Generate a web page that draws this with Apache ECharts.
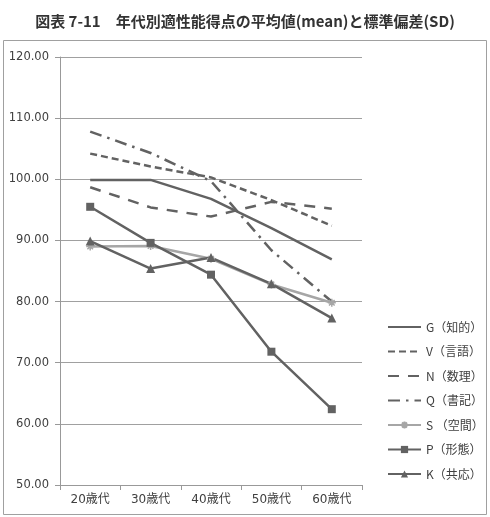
<!DOCTYPE html>
<html>
<head>
<meta charset="utf-8">
<script src="https://cdn.jsdelivr.net/npm/echarts@6/dist/echarts.min.js"></script>
<style>
  html, body { margin: 0; padding: 0; background: #fff; }
  #chart { width: 490px; height: 517px; }
</style>
</head>
<body>
<div id="chart"></div>
<script>
// 年代
const categories = ['20歳代', '30歳代', '40歳代', '50歳代', '60歳代']
// 各適性能の平均値
const gValues = [99.9, 99.9, 96.8, 92.0, 86.9]
const vValues = [104.2, 102.1, 100.3, 96.6, 92.4]
const nValues = [98.7, 95.4, 93.9, 96.3, 95.2]
const qValues = [107.8, 104.3, 99.7, 88.4, 80.0]
const sValues = [89.0, 89.1, 87.0, 82.8, 79.8]
const pValues = [95.5, 89.6, 84.4, 71.8, 62.4]
const kValues = [89.9, 85.4, 87.2, 82.9, 77.3]
const seriesNames = ['G（知的）', 'V（言語）', 'N（数理）', 'Q（書記）', 'S （空間）', 'P（形態）', 'K（共応）']
const yTicks = { min: 50, max: 120, interval: 10 }

const dark = '#626262'
const light = '#a6a6a6'
const txt = '#404040'
const asterisk = 'path://M5,0L5,10M0,5L10,5M1.5,1.5L8.5,8.5M8.5,1.5L1.5,8.5'

function lineSeries(name, data, color, type, symbol, size) {
  return {
    name: name,
    type: 'line',
    data: data,
    symbol: symbol || 'none',
    symbolSize: size || 0,
    showSymbol: !!symbol,
    animation: false,
    lineStyle: { color: color, width: 2.5, type: type || 'solid' },
    itemStyle: symbol === asterisk
      ? { color: 'transparent', borderColor: color, borderWidth: 1.5 }
      : { color: color, borderColor: color, borderWidth: 0 }
  }
}

// 凡例: 線だけの系列は記号を透明に
const legendData = seriesNames.map((name, i) => (i < 4
  ? { name: name, itemStyle: { color: 'transparent', borderColor: 'transparent', borderWidth: 0 } }
  : { name: name }))

const chart = echarts.init(document.getElementById('chart'))
chart.setOption({
  backgroundColor: '#fff',
  animation: false,
  title: {
    text: '図表 7-11　年代別適性能得点の平均値(mean)と標準偏差(SD)',
    left: 'center',
    top: 9,
    textStyle: { color: '#333', fontSize: 15, fontWeight: 'bold', fontFamily: 'Noto Sans CJK JP' }
  },
  graphic: [{
    type: 'rect',
    shape: { x: 3.5, y: 40.5, width: 483, height: 474 },
    style: { fill: 'none', stroke: '#a0a0a0', lineWidth: 1 },
    silent: true
  }],
  grid: { left: 60, right: 128, top: 57, bottom: 32 },
  legend: {
    orient: 'vertical',
    left: 382,
    top: 316,
    itemWidth: 33,
    itemHeight: 9,
    itemGap: 12.5,
    data: legendData,
    textStyle: { color: txt, fontSize: 12, fontFamily: 'Noto Sans CJK JP' }
  },
  xAxis: {
    type: 'category',
    data: categories,
    boundaryGap: true,
    axisLine: { lineStyle: { color: '#999', width: 1 } },
    axisTick: { show: true, length: 5, alignWithLabel: false, lineStyle: { color: '#999' } },
    axisLabel: { color: txt, fontSize: 12, margin: 9, fontFamily: 'DejaVu Sans, Noto Sans CJK JP' }
  },
  yAxis: {
    type: 'value',
    min: yTicks.min,
    max: yTicks.max,
    interval: yTicks.interval,
    axisLine: { show: true, lineStyle: { color: '#999', width: 1 } },
    axisTick: { show: true, length: 5, lineStyle: { color: '#999' } },
    splitLine: { lineStyle: { color: '#a0a0a0', width: 1 } },
    axisLabel: {
      color: txt, fontSize: 11.5, margin: 11, fontFamily: 'DejaVu Sans',
      formatter: v => v.toFixed(2)
    }
  },
  series: [
    lineSeries(seriesNames[0], gValues, dark),
    lineSeries(seriesNames[1], vValues, dark, [7, 4]),
    lineSeries(seriesNames[2], nValues, dark, [11, 9]),
    lineSeries(seriesNames[3], qValues, dark, [12, 6, 2.5, 6]),
    lineSeries(seriesNames[4], sValues, light, 'solid', asterisk, 8),
    lineSeries(seriesNames[5], pValues, dark, 'solid', 'rect', 8),
    lineSeries(seriesNames[6], kValues, dark, 'solid', 'triangle', 9)
  ]
})
</script>
</body>
</html>
